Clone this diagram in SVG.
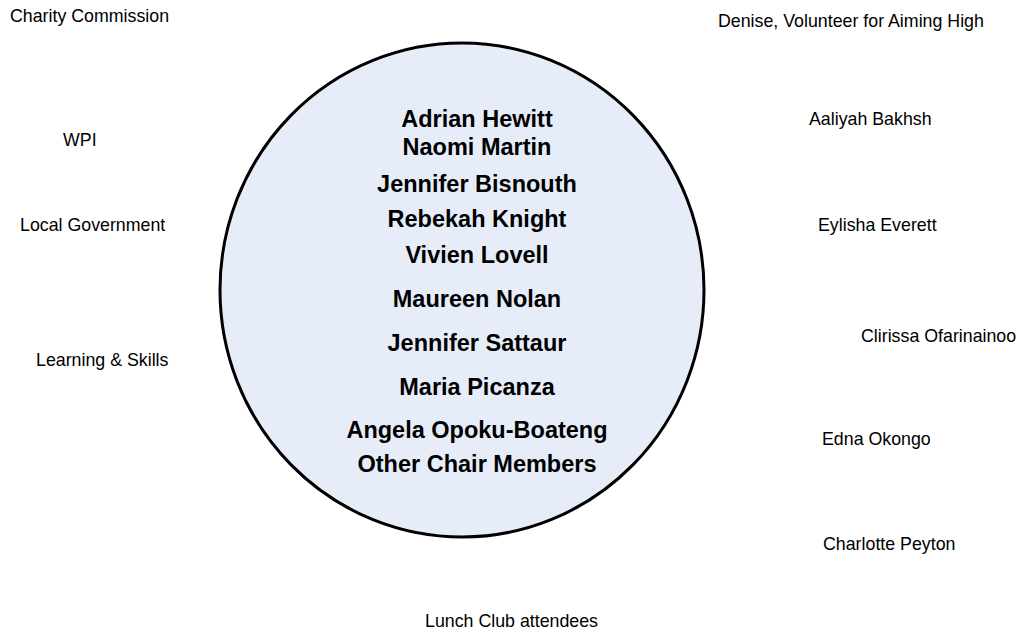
<svg xmlns="http://www.w3.org/2000/svg" width="1021" height="632" viewBox="0 0 1021 632">
  <style>
    .label { font-family: "Liberation Sans", Arial, sans-serif; font-size: 17.8px; fill: #000; }
    .member { font-family: "Liberation Sans", Arial, sans-serif; font-size: 23.5px; font-weight: bold; fill: #000; text-anchor: middle; }
    .core { fill: #E7EDF8; stroke: #000; stroke-width: 3; }
  </style>
  <rect width="1021" height="632" fill="#fff"/>

  <!-- central circle of chair members -->
  <g id="chair">
    <ellipse class="core" cx="462" cy="290" rx="242" ry="247"/>
    <text class="member" x="477" y="127">Adrian Hewitt</text>
    <text class="member" x="477" y="155">Naomi Martin</text>
    <text class="member" x="477" y="192">Jennifer Bisnouth</text>
    <text class="member" x="477" y="227">Rebekah Knight</text>
    <text class="member" x="477" y="263">Vivien Lovell</text>
    <text class="member" x="477" y="307">Maureen Nolan</text>
    <text class="member" x="477" y="351">Jennifer Sattaur</text>
    <text class="member" x="477" y="395">Maria Picanza</text>
    <text class="member" x="477" y="438">Angela Opoku-Boateng</text>
    <text class="member" x="477" y="472">Other Chair Members</text>
  </g>

  <!-- organisations on the left -->
  <g id="charity-commission"><text class="label" x="10" y="22">Charity Commission</text></g>
  <g id="wpi"><text class="label" x="63" y="146">WPI</text></g>
  <g id="local-government"><text class="label" x="20" y="231">Local Government</text></g>
  <g id="learning-skills"><text class="label" x="36" y="366">Learning &amp; Skills</text></g>

  <!-- people on the right -->
  <g id="denise"><text class="label" x="718" y="27">Denise, Volunteer for Aiming High</text></g>
  <g id="aaliyah"><text class="label" x="809" y="125">Aaliyah Bakhsh</text></g>
  <g id="eylisha"><text class="label" x="818" y="231">Eylisha Everett</text></g>
  <g id="clirissa"><text class="label" x="861" y="342">Clirissa Ofarinainoo</text></g>
  <g id="edna"><text class="label" x="822" y="445">Edna Okongo</text></g>
  <g id="charlotte"><text class="label" x="823" y="550">Charlotte Peyton</text></g>

  <!-- bottom -->
  <g id="lunch-club"><text class="label" x="425" y="627">Lunch Club attendees</text></g>
</svg>
